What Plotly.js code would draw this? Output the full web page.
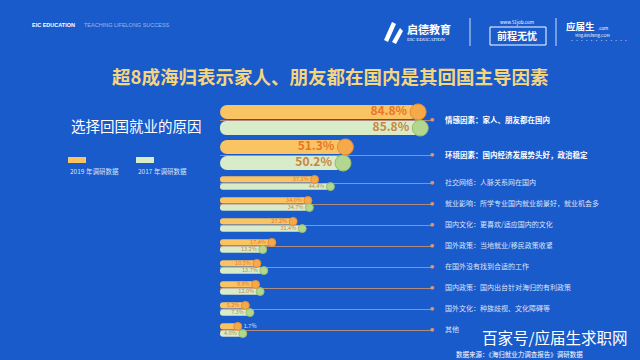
<!DOCTYPE html>
<html>
<head>
<meta charset="utf-8">
<script src="https://cdn.plot.ly/plotly-3.0.1.min.js"></script>
<style>html,body{margin:0;padding:0;background:#1a5bcc;}#chart{width:640px;height:360px;}</style>
</head>
<body>
<div id="chart"></div>
<script>
// ---- data ----
const categories = [
  '情感因素：家人、朋友都在国内',
  '环境因素：国内经济发展势头好，政治稳定',
  '社交网络：人脉关系网在国内',
  '就业影响：所学专业国内就业前景好，就业机会多',
  '国内文化：更喜欢/适应国内的文化',
  '国外政策：当地就业/移民政策收紧',
  '在国外没有找到合适的工作',
  '国内政策：国内出台针对海归的有利政策',
  '国外文化：种族歧视、文化障碍等',
  '其他'
];
const values2019 = [84.8, 51.3, 37.1, 34.0, 27.2, 17.4, 10.5, 9.9, 5.2, 1.7];
const values2017 = [85.8, 50.2, 44.4, 34.7, 31.4, 13.2, 13.7, 12.0, 7.3, 4.0];
const seriesNames = ['2019 年调研数据', '2017 年调研数据'];
const title = '超8成海归表示家人、朋友都在国内是其回国主导因素';
const subtitle = '选择回国就业的原因';
const source = '数据来源：《海归就业力调查报告》调研数据';

// ---- styling ----
const FONT = 'Noto Sans CJK SC, Noto Sans, sans-serif';
const ORANGE = '#fac462', ORANGE_DOT = '#f6a948', ORANGE_LINE = '#e88a3a';
const GREEN = '#d9ecc9', GREEN_DOT = '#b3d691', GREEN_LINE = '#93bd6c';
const TOPN = 2;
const XDOM = [220 / 640, 432 / 640];
const BAR_BASE = -6.5;             // visual lead-in of every bar (as in the infographic)
const XRANGE = [BAR_BASE, 91.2];
const gridC = 'rgba(214,150,110,0.8)';

const layout = {
  width: 640, height: 360, margin: {l: 0, r: 0, t: 0, b: 0},
  paper_bgcolor: '#1a5bcc', plot_bgcolor: 'rgba(0,0,0,0)',
  barmode: 'overlay', showlegend: false,
  font: {family: FONT, color: '#ffffff'}
};
const traces = [];

function xax(anchor) {
  return {domain: XDOM, range: XRANGE, anchor: anchor, showgrid: false, zeroline: false, showticklabels: false, showline: false, fixedrange: true};
}

function subplot(start, end, xi, yi, ovA, ovB, domain, big) {
  const cats = categories.slice(start, end);
  const n = cats.length;
  const v19 = values2019.slice(start, end);
  const v17 = values2017.slice(start, end);
  const w = big ? 0.4 : 0.3;
  const offs = big ? [-0.43, 0.03] : [-0.32, 0.02];
  const xs = 'x' + (xi === 1 ? '' : xi), ys = 'y' + (yi === 1 ? '' : yi);
  layout['xaxis' + (xi === 1 ? '' : xi)] = xax(ys);
  layout['yaxis' + (yi === 1 ? '' : yi)] = {
    domain: domain, type: 'category', categoryarray: cats, range: [n - 0.5, -0.5], anchor: xs, side: 'right',
    showgrid: true, gridcolor: gridC, gridwidth: 1, zeroline: false, showline: false,
    ticks: '', ticklabelstandoff: 12,
    tickfont: {family: FONT, size: big ? 7.5 : 7, color: big ? '#ffffff' : 'rgba(255,255,255,0.85)', weight: big ? 700 : 400},
    fixedrange: true
  };
  const series = [
    {x: v19, name: seriesNames[0], bar: ORANGE, c: ORANGE_DOT, l: ORANGE_LINE, t: '#e8752a', ov: ovA, off: offs[0]},
    {x: v17, name: seriesNames[1], bar: GREEN, c: GREEN_DOT, l: GREEN_LINE, t: big ? '#c9853a' : '#b98a4a', ov: ovB, off: offs[1]}
  ];
  series.forEach(s => {
    traces.push({type: 'bar', orientation: 'h', x: s.x.map(v => v - BAR_BASE), base: BAR_BASE, y: cats, xaxis: xs, yaxis: ys, width: w, offset: s.off,
      name: s.name, marker: {color: s.bar, cornerradius: big ? 7 : 3}, hoverinfo: 'skip'});
    const c = s.off + w / 2;
    layout['yaxis' + s.ov] = {
      overlaying: ys, anchor: xs, type: 'category', categoryarray: cats,
      range: [n - 0.5 - c, -0.5 - c], visible: false, showgrid: false, fixedrange: true
    };
    traces.push({type: 'scatter', mode: 'markers+text', x: s.x, y: cats, xaxis: xs, yaxis: 'y' + s.ov,
      marker: {size: big ? 16 : 8, color: s.c, line: {color: s.l, width: 1}},
      texttemplate: '%{x:.1f}%',
      textposition: s.x.map(v => v < 3 ? 'middle right' : 'middle left'),
      textfont: {family: FONT, size: big ? 12 : 5.5, color: s.x.map(v => v < 3 ? '#d6e6ff' : s.t), weight: big ? 700 : 400},
      cliponaxis: false, hoverinfo: 'skip', showlegend: false});
  });
}
subplot(0, TOPN, 1, 1, 3, 4, [1 - 172.5 / 360, 1 - 102.5 / 360], true);
subplot(TOPN, categories.length, 2, 2, 5, 6, [1 - 340.5 / 360, 1 - 172.5 / 360], false);

const ann = [];
function A(text, x, y, size, color, opts) {
  ann.push(Object.assign({text: text, x: x / 640, y: 1 - y / 360, xref: 'paper', yref: 'paper', showarrow: false,
    xanchor: 'left', yanchor: 'middle', font: {family: FONT, size: size, color: color}}, opts || {}));
}
A('EIC EDUCATION', 30, 25, 5.5, '#ffffff', {font: {family: 'Liberation Sans, sans-serif', size: 5.5, color: '#fff', weight: 700}});
A('TEACHING LIFELONG SUCCESS', 82, 25, 5.5, 'rgba(255,255,255,0.55)', {font: {family: 'Liberation Sans, sans-serif', size: 5.5, color: 'rgba(255,255,255,0.55)'}});
A('启德教育', 405, 29, 11, '#ffffff', {font: {family: FONT, size: 11, color: '#fff', weight: 700}});
A('EIC EDUCATION', 405, 39, 5, '#ffffff', {font: {family: 'Liberation Serif, serif', size: 5, color: '#fff'}});
A('www.51job.com', 498, 22, 4.5, '#ffffff');
A('前程无忧', 517, 36, 10, '#ffffff', {xanchor: 'center', font: {family: FONT, size: 10, color: '#fff', weight: 700}});
A('应届生', 564, 26, 9.5, '#ffffff', {font: {family: FONT, size: 9.5, color: '#fff', weight: 700}});
A('.com', 596, 28, 4.5, '#ffffff');
A('YingJieSheng.COM', 572, 35, 4, '#ffffff');
A('· · · · · · · · · · · ·', 568, 41, 4, '#ffffff');
A(title, 330, 76, 18.5, '#f5d57e', {xanchor: 'center', font: {family: FONT, size: 18.5, color: '#f5d57e', weight: 700}});
A(subtitle, 69, 125, 14.5, '#ffffff');
A(seriesNames[0], 68, 171, 6.5, 'rgba(255,255,255,0.85)');
A(seriesNames[1], 136, 171, 6.5, 'rgba(255,255,255,0.85)');
A(source, 519, 354, 6.5, '#ffffff', {xanchor: 'center'});
A('百家号/应届生求职网', 555, 337, 15.5, '#ffffff', {xanchor: 'center'});

categories.forEach((c, i) => {
  ann.push({text: '●', x: XDOM[1], xref: 'paper', y: c, yref: i < TOPN ? 'y' : 'y2', showarrow: false,
    xanchor: 'center', yanchor: 'middle', font: {size: 4, color: '#e0946a'}});
});

layout.annotations = ann;
layout.shapes = [
  {type: 'rect', xref: 'paper', yref: 'paper', x0: 68 / 640, x1: 86 / 640, y0: 1 - 163 / 360, y1: 1 - 157 / 360, fillcolor: ORANGE, line: {width: 0}},
  {type: 'rect', xref: 'paper', yref: 'paper', x0: 136 / 640, x1: 154 / 640, y0: 1 - 163 / 360, y1: 1 - 157 / 360, fillcolor: GREEN, line: {width: 0}},
  {type: 'line', xref: 'paper', yref: 'paper', x0: 470 / 640, x1: 470 / 640, y0: 1 - 18 / 360, y1: 1 - 46 / 360, line: {color: 'rgba(255,255,255,0.8)', width: 1}},
  {type: 'line', xref: 'paper', yref: 'paper', x0: 556 / 640, x1: 556 / 640, y0: 1 - 18 / 360, y1: 1 - 46 / 360, line: {color: 'rgba(255,255,255,0.8)', width: 1}},
  {type: 'rect', xref: 'paper', yref: 'paper', x0: 490 / 640, x1: 546 / 640, y0: 1 - 45 / 360, y1: 1 - 27 / 360, line: {color: '#ffffff', width: 1}},
  {type: 'path', xref: 'paper', yref: 'paper', path: `M ${384/640} ${1-40/360} L ${392/640} ${1-22/360} L ${396/640} ${1-24/360} L ${388/640} ${1-42/360} Z M ${392/640} ${1-42/360} L ${400/640} ${1-28/360} L ${403/640} ${1-31/360} L ${396/640} ${1-44/360} Z`, fillcolor: '#ffffff', line: {width: 0}}
];

Plotly.newPlot('chart', traces, layout, {staticPlot: true, displayModeBar: false});
</script>
</body>
</html>
